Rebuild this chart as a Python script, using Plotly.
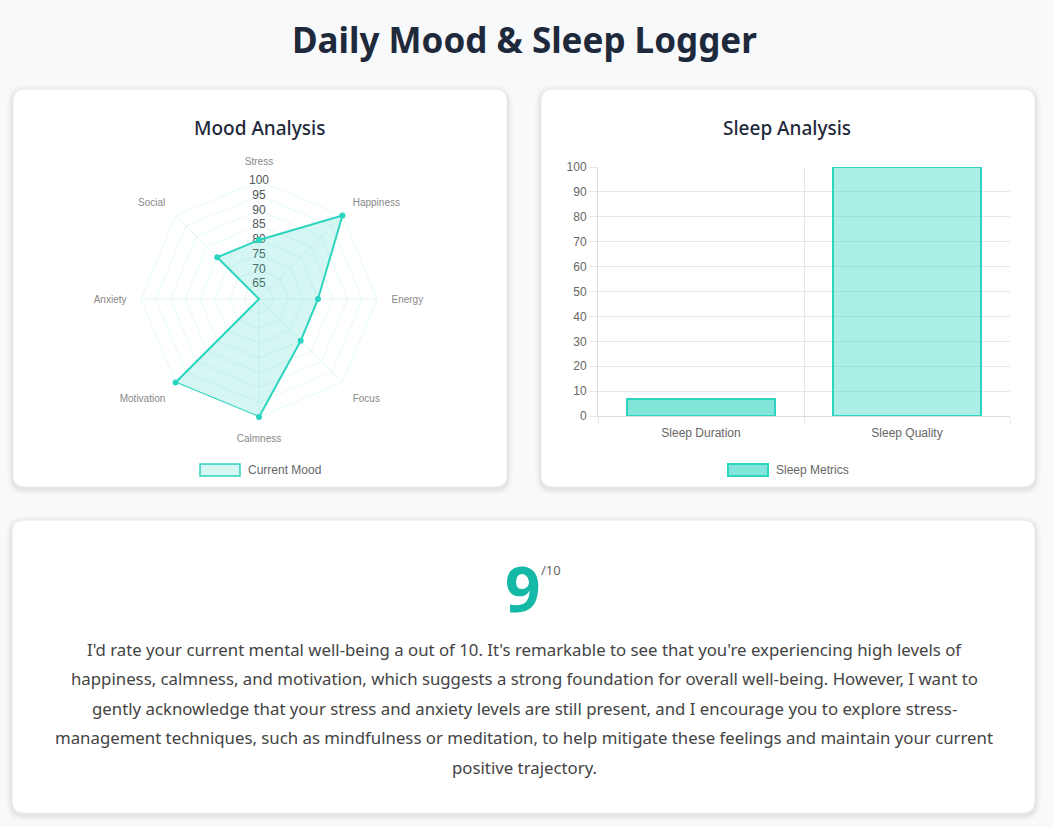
import plotly.graph_objects as go

W, H = 1054, 827

# ---------------- data ----------------
mood_axes = ["Stress", "Happiness", "Energy", "Focus", "Calmness", "Motivation", "Anxiety", "Social"]
mood_values = [80, 100, 80, 80, 100, 100, 60, 80]
radial_ticks = [65, 70, 75, 80, 85, 90, 95, 100]

sleep_categories = ["Sleep Duration", "Sleep Quality"]
sleep_values = [7, 100]
sleep_ticks = [0, 10, 20, 30, 40, 50, 60, 70, 80, 90, 100]

score = 9
score_max = 10
summary_lines = [
    "I'd rate your current mental well-being a out of 10. It's remarkable to see that you're experiencing high levels of",
    "happiness, calmness, and motivation, which suggests a strong foundation for overall well-being. However, I want to",
    "gently acknowledge that your stress and anxiety levels are still present, and I encourage you to explore stress-",
    "management techniques, such as mindfulness or meditation, to help mitigate these feelings and maintain your current",
    "positive trajectory.",
]

# ---------------- styles ----------------
TEAL = "rgb(45,212,191)"
TEAL_FILL = "rgba(45,212,191,0.2)"
TEAL_GRID = "rgba(45,212,191,0.12)"
BAR_FILLS = ["rgba(45,212,191,0.6)", "rgba(45,212,191,0.4)"]
CHART_FONT = "Liberation Sans, Arial, sans-serif"
UI_FONT = "Noto Sans, Open Sans, sans-serif"
DARK = "#1e293b"


def X(px):
    return px / W


def Y(py):
    return 1 - py / H


def rrect(x0, y0, x1, y1, r):
    rx, ry = r / W, r / H
    a, b, c, d = X(x0), Y(y0), X(x1), Y(y1)  # b top, d bottom
    return (f"M {a+rx} {b} L {c-rx} {b} Q {c} {b} {c} {b-ry} "
            f"L {c} {d+ry} Q {c} {d} {c-rx} {d} L {a+rx} {d} "
            f"Q {a} {d} {a} {d+ry} L {a} {b-ry} Q {a} {b} {a+rx} {b} Z")


shapes = []
cards = [(13, 89, 507, 487), (541, 89, 1035, 487), (12, 520, 1035, 813)]
for (x0, y0, x1, y1) in cards:
    for k, op in [(6, 0.015), (4, 0.025), (2, 0.04)]:
        shapes.append(dict(type="path", xref="paper", yref="paper",
                           path=rrect(x0 - k, y0 - k + 2, x1 + k, y1 + k + 2, 12 + k),
                           fillcolor=f"rgba(0,0,0,{op})", line=dict(width=0), layer="below"))
    shapes.append(dict(type="path", xref="paper", yref="paper",
                       path=rrect(x0, y0, x1, y1, 12),
                       fillcolor="white", line=dict(color="#ececec", width=1), layer="below"))

# legend swatches
shapes.append(dict(type="rect", xref="paper", yref="paper",
                   x0=X(200), x1=X(240), y0=Y(476), y1=Y(464),
                   fillcolor=TEAL_FILL, line=dict(color=TEAL, width=1.5)))
shapes.append(dict(type="rect", xref="paper", yref="paper",
                   x0=X(728), x1=X(768), y0=Y(476), y1=Y(464),
                   fillcolor=BAR_FILLS[0], line=dict(color=TEAL, width=2)))

fig = go.Figure()

# radial tick labels along the Stress axis
fig.add_trace(go.Scatterpolar(
    r=radial_ticks, theta=[mood_axes[0]] * len(radial_ticks),
    mode="text", text=[str(v) for v in radial_ticks],
    textfont=dict(family=CHART_FONT, size=12, color="#555"),
    textposition="middle center", showlegend=False, hoverinfo="skip"))

fig.add_trace(go.Scatterpolar(
    r=mood_values + [mood_values[0]], theta=mood_axes + [mood_axes[0]],
    mode="lines+markers", fill="toself", fillcolor=TEAL_FILL,
    line=dict(color=TEAL, width=2), marker=dict(color=TEAL, size=6),
    name="Current Mood", showlegend=False))

fig.add_trace(go.Bar(
    x=sleep_categories, y=sleep_values, width=0.72,
    marker=dict(color=BAR_FILLS, line=dict(color=TEAL, width=2)),
    name="Sleep Metrics", showlegend=False))

cx, cy, R = 259, 299, 118
annotations = [
    dict(text="<b>Daily Mood &amp; Sleep Logger</b>", x=X(524), y=Y(39), xref="paper", yref="paper",
         showarrow=False, font=dict(family=UI_FONT, size=35, color=DARK), xanchor="center", yanchor="middle"),
    dict(text="Mood Analysis", x=X(259), y=Y(128), xref="paper", yref="paper", showarrow=False,
         font=dict(family=UI_FONT, size=19, color=DARK, weight=500), xanchor="center", yanchor="middle"),
    dict(text="Sleep Analysis", x=X(787), y=Y(128), xref="paper", yref="paper", showarrow=False,
         font=dict(family=UI_FONT, size=19, color=DARK, weight=500), xanchor="center", yanchor="middle"),
    dict(text="Current Mood", x=X(246), y=Y(470), xref="paper", yref="paper", showarrow=False,
         font=dict(family=CHART_FONT, size=12, color="#666"), xanchor="left", yanchor="middle"),
    dict(text="Sleep Metrics", x=X(774), y=Y(470), xref="paper", yref="paper", showarrow=False,
         font=dict(family=CHART_FONT, size=12, color="#666"), xanchor="left", yanchor="middle"),
    dict(text=f"<b>{score}</b>", x=X(522), y=Y(588), xref="paper", yref="paper", showarrow=False,
         font=dict(family=UI_FONT, size=62, color="#14b8a6"), xanchor="center", yanchor="middle"),
    dict(text=f"/{score_max}", x=X(539), y=Y(570), xref="paper", yref="paper", showarrow=False,
         font=dict(family=UI_FONT, size=13, color="#666"), xanchor="left", yanchor="middle"),
]
for i, line in enumerate(summary_lines):
    annotations.append(dict(text=line, x=X(524), y=Y(649 + 29.5 * i), xref="paper", yref="paper",
                            showarrow=False, font=dict(family=UI_FONT, size=16.8, color="#444"),
                            xanchor="center", yanchor="middle"))

fig.update_layout(
    width=W, height=H, margin=dict(l=0, r=0, t=0, b=0, pad=0, autoexpand=False),
    paper_bgcolor="#f8f9fa", plot_bgcolor="rgba(0,0,0,0)",
    showlegend=False, shapes=shapes, annotations=annotations,
    polar=dict(
        domain=dict(x=[X(cx - R), X(cx + R)], y=[Y(cy + R), Y(cy - R)]),
        bgcolor="rgba(0,0,0,0)", gridshape="linear",
        radialaxis=dict(range=[60, 100], tickvals=radial_ticks, showticklabels=False,
                        ticks="", showline=False, gridcolor=TEAL_GRID, angle=90),
        angularaxis=dict(rotation=90, direction="clockwise", gridcolor=TEAL_GRID,
                         linecolor=TEAL_GRID, showline=True, ticks="outside", ticklen=12,
                         tickcolor="rgba(0,0,0,0)",
                         tickfont=dict(family=CHART_FONT, size=10, color="#888")),
    ),
    xaxis=dict(domain=[X(598), X(1010)], type="category", range=[-0.5, 1.5], automargin=False,
               tickson="boundaries", showgrid=True, gridcolor="#e8e8e8",
               ticks="outside", ticklen=8, tickcolor="#e8e8e8", ticklabelstandoff=6,
               showline=True, linecolor="#dcdcdc", zeroline=False,
               tickfont=dict(family=CHART_FONT, size=12, color="#666")),
    yaxis=dict(domain=[Y(416), Y(167)], range=[0, 100], tickvals=sleep_ticks, automargin=False,
               showgrid=True, gridcolor="#e8e8e8", ticks="outside", ticklen=8,
               tickcolor="#e8e8e8", showline=True, linecolor="#dcdcdc", zeroline=False,
               tickfont=dict(family=CHART_FONT, size=12, color="#666")),
    bargap=0,
)

fig.write_html("out.html")
